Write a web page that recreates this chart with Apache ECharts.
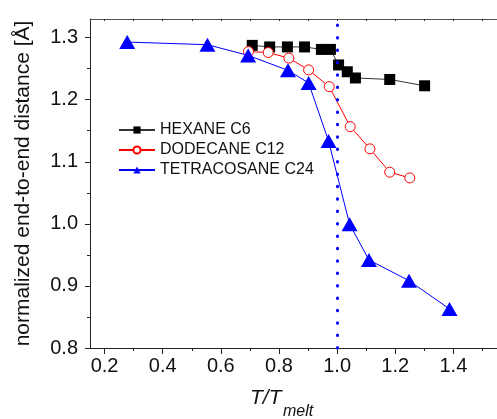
<!DOCTYPE html>
<html>
<head>
<meta charset="utf-8">
<script src="https://cdn.jsdelivr.net/npm/echarts@6/dist/echarts.min.js"></script>
<style>html,body{margin:0;padding:0;background:#fff}#c{width:497px;height:419px}</style>
</head>
<body>
<div id="c"></div>
<script>
// ---- data ----
const hexaneX = [0.708, 0.768, 0.829, 0.888, 0.946, 0.977, 1.005, 1.035, 1.063, 1.181, 1.301];
const hexaneY = [1.2875, 1.285, 1.285, 1.285, 1.281, 1.281, 1.256, 1.245, 1.235, 1.2326, 1.2224];
const dodecaneX = [0.695, 0.763, 0.834, 0.902, 0.973, 1.045, 1.113, 1.181, 1.250];
const dodecaneY = [1.2775, 1.276, 1.267, 1.248, 1.221, 1.1566, 1.1208, 1.0832, 1.074];
const tetraX = [0.278, 0.554, 0.694, 0.831, 0.902, 0.9705, 1.043, 1.1095, 1.2474, 1.3866];
const tetraY = [1.2928, 1.2886, 1.2714, 1.2473, 1.227, 1.1336, 0.9995, 0.9418, 0.9084, 0.863];
const seriesNames = ['HEXANE C6', 'DODECANE C12', 'TETRACOSANE C24'];
const xTicks = [0.2, 0.4, 0.6, 0.8, 1.0, 1.2, 1.4];
const xMinorTicks = [0.3, 0.5, 0.7, 0.9, 1.1, 1.3, 1.5];
const xTopTicks = [0.2, 0.3, 0.4, 0.5, 0.6, 0.7, 0.8, 0.9, 1.0, 1.1, 1.2, 1.3, 1.4, 1.5];
const yTicks = [0.8, 0.9, 1.0, 1.1, 1.2, 1.3];
const yMinorTicks = [0.85, 0.95, 1.05, 1.15, 1.25];
const meltLine = [1.0];
const xRange = [0.15, 1.55];
const yRange = [0.8, 1.33];

const pair = (xs, ys) => xs.map((x, i) => [x, ys[i]]);
const FONT = '"Liberation Sans", Arial, Helvetica, sans-serif';

const chart = echarts.init(document.getElementById('c'), null, {renderer: 'canvas'});
const axisCommon = {
  type: 'value', min: xRange[0], max: xRange[1], gridIndex: 0,
  splitLine: {show: false}
};
const option = {
  animation: false,
  backgroundColor: '#fff',
  grid: {left: 90, top: 19, width: 409.5, height: 329, containLabel: false},
  legend: {
    orient: 'vertical', left: 113, top: 117, itemWidth: 36, itemHeight: 9, itemGap: 4,
    textStyle: {fontFamily: FONT, fontSize: 16, color: '#111'},
    data: seriesNames
  },
  xAxis: [
    Object.assign({}, axisCommon, {
      position: 'bottom',
      axisLine: {show: true, onZero: false, lineStyle: {color: '#222', width: 1}},
      axisTick: {show: true, inside: false, length: 6, customValues: xTicks, lineStyle: {color: '#222'}},
      axisLabel: {show: true, customValues: xTicks, margin: 8, fontFamily: FONT, fontSize: 20, color: '#111',
                  formatter: v => v.toFixed(1)}
    }),
    Object.assign({}, axisCommon, {
      position: 'bottom',
      axisLine: {show: false, onZero: false},
      axisTick: {show: true, inside: false, length: 3, customValues: xMinorTicks, lineStyle: {color: '#222'}},
      axisLabel: {show: false}
    }),
    Object.assign({}, axisCommon, {
      position: 'top',
      axisLine: {show: true, onZero: false, lineStyle: {color: '#555', width: 1}},
      axisTick: {show: true, inside: true, length: 2, customValues: xTopTicks, lineStyle: {color: '#222'}},
      axisLabel: {show: false}
    })
  ],
  yAxis: [
    {
      type: 'value', min: yRange[0], max: yRange[1], position: 'left', gridIndex: 0,
      splitLine: {show: false},
      axisLine: {show: true, onZero: false, lineStyle: {color: '#222', width: 1}},
      axisTick: {show: true, inside: false, length: 5, customValues: yTicks, lineStyle: {color: '#222'}},
      axisLabel: {show: true, customValues: yTicks, margin: 12, fontFamily: FONT, fontSize: 20, color: '#111',
                  formatter: v => v.toFixed(1)},
      name: 'normalized end-to-end distance [Å]', nameLocation: 'middle', nameGap: 56,
      nameTextStyle: {fontFamily: FONT, fontSize: 21, color: '#111'}
    },
    {
      type: 'value', min: yRange[0], max: yRange[1], position: 'left', gridIndex: 0,
      splitLine: {show: false},
      axisLine: {show: false, onZero: false},
      axisTick: {show: true, inside: false, length: 3, customValues: yMinorTicks, lineStyle: {color: '#222'}},
      axisLabel: {show: false}
    }
  ],
  graphic: [
    {type: 'text', left: 250, top: 388, style: {text: 'T/T', font: 'italic 21px ' + FONT, fill: '#111'}},
    {type: 'text', left: 283, top: 404, style: {text: 'melt', font: 'italic 16px ' + FONT, fill: '#111'}}
  ],
  series: [
    {
      name: seriesNames[0], type: 'line', xAxisIndex: 0, yAxisIndex: 0,
      data: pair(hexaneX, hexaneY),
      symbol: 'rect', symbolSize: 11,
      lineStyle: {color: '#333', width: 1},
      itemStyle: {color: '#000'},
      z: 2
    },
    {
      name: seriesNames[1], type: 'line', xAxisIndex: 0, yAxisIndex: 0,
      data: pair(dodecaneX, dodecaneY),
      symbol: 'circle', symbolSize: 10, showAllSymbol: true,
      lineStyle: {color: '#ff0000', width: 1},
      itemStyle: {color: '#ffffff', borderColor: '#ff0000', borderWidth: 1},
      z: 3
    },
    {
      name: seriesNames[2], type: 'line', xAxisIndex: 0, yAxisIndex: 0,
      data: pair(tetraX, tetraY),
      symbol: 'triangle', symbolSize: [16, 14],
      lineStyle: {color: '#0000ff', width: 1},
      itemStyle: {color: '#0000ff'},
      z: 4,
      markLine: {
        silent: true, symbol: ['none', 'none'], label: {show: false},
        lineStyle: {color: '#0000ff', width: 3, type: [0.5, 11.9], cap: 'round'},
        data: meltLine.map(v => ({xAxis: v}))
      }
    }
  ]
};
chart.setOption(option);
</script>
</body>
</html>
